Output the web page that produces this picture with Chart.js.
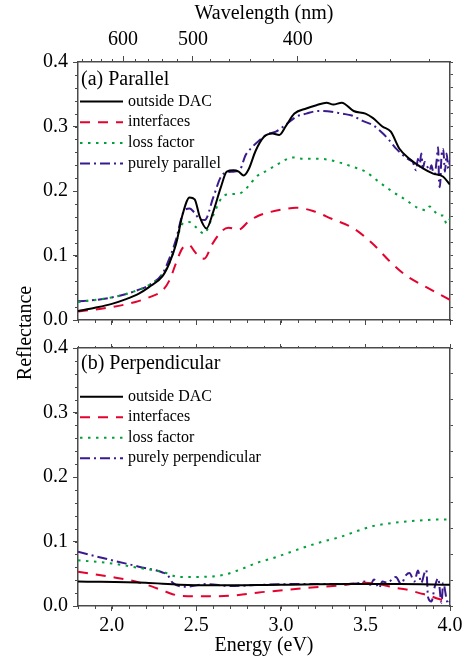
<!DOCTYPE html>
<html>
<head>
<meta charset="utf-8">
<script src="https://cdn.jsdelivr.net/npm/chart.js@4"></script>
<style>
  body { margin: 0; background: #fff; }
  #wrap { position: relative; width: 466px; height: 658px; }
  canvas { position: absolute; left: 0; }
  #c1 { top: 0; }
  #c2 { top: 330px; }
  #ylabel {
    position: absolute; left: -75px; top: 321px; width: 200px; height: 24px;
    line-height: 24px; text-align: center; font: 20px "Liberation Serif", serif;
    color: #000; transform: rotate(-90deg);
  }
</style>
</head>
<body>
<div id="wrap">
  <canvas id="c1" width="466" height="330"></canvas>
  <canvas id="c2" width="466" height="328"></canvas>
  <div id="ylabel">Reflectance</div>
</div>
<script>
// axis ticks
const energyTicks = [2.0, 2.5, 3.0, 3.5, 4.0];
const reflTicks = [0, 0.1, 0.2, 0.3, 0.4];
const wavelengthTicks = [600, 500, 400];
const wavelengthMinor = [680, 660, 640, 620, 580, 560, 540, 520, 480, 460, 440, 420, 380, 360, 340, 320];

// (a) Parallel
const parOutsideE = [1.80, 1.90, 2.00, 2.08, 2.16, 2.22, 2.30, 2.34, 2.38, 2.42, 2.46, 2.49, 2.52, 2.56, 2.60, 2.645, 2.68, 2.72, 2.75, 2.78, 2.81, 2.85, 2.90, 2.95, 2.99, 3.03, 3.08, 3.15, 3.21, 3.27, 3.31, 3.36, 3.43, 3.50, 3.545, 3.60, 3.65, 3.70, 3.76, 3.84, 3.90, 3.96, 4.00];
const parOutsideR = [0.014, 0.019, 0.025, 0.032, 0.041, 0.051, 0.068, 0.088, 0.118, 0.165, 0.190, 0.187, 0.160, 0.142, 0.168, 0.206, 0.230, 0.232, 0.230, 0.224, 0.234, 0.262, 0.284, 0.289, 0.287, 0.301, 0.320, 0.328, 0.333, 0.337, 0.334, 0.337, 0.324, 0.320, 0.313, 0.300, 0.292, 0.266, 0.250, 0.235, 0.227, 0.222, 0.210];

const parInterfE = [1.80, 2.00, 2.14, 2.22, 2.30, 2.34, 2.378, 2.417, 2.457, 2.49, 2.516, 2.546, 2.595, 2.655, 2.69, 2.75, 2.81, 2.87, 2.93, 3.00, 3.09, 3.19, 3.30, 3.43, 3.54, 3.64, 3.74, 3.86, 4.00];
const parInterfR = [0.013, 0.020, 0.028, 0.035, 0.046, 0.061, 0.087, 0.111, 0.116, 0.106, 0.098, 0.095, 0.118, 0.139, 0.143, 0.140, 0.153, 0.162, 0.167, 0.171, 0.174, 0.169, 0.157, 0.142, 0.119, 0.092, 0.069, 0.051, 0.031];

const parLossE = [1.80, 1.90, 2.00, 2.08, 2.16, 2.22, 2.30, 2.34, 2.378, 2.417, 2.457, 2.497, 2.546, 2.595, 2.655, 2.70, 2.754, 2.81, 2.853, 2.92, 2.99, 3.07, 3.13, 3.19, 3.27, 3.35, 3.43, 3.50, 3.58, 3.66, 3.74, 3.80, 3.83, 3.86, 3.88, 3.91, 3.94, 3.96, 3.98, 4.00];
const parLossR = [0.028, 0.031, 0.035, 0.040, 0.047, 0.054, 0.070, 0.088, 0.118, 0.149, 0.152, 0.144, 0.134, 0.160, 0.191, 0.195, 0.196, 0.208, 0.222, 0.232, 0.243, 0.252, 0.250, 0.250, 0.249, 0.244, 0.237, 0.230, 0.214, 0.199, 0.186, 0.175, 0.172, 0.170, 0.176, 0.168, 0.162, 0.162, 0.149, 0.157];

const parPureE = [1.80, 1.90, 2.00, 2.08, 2.16, 2.22, 2.30, 2.34, 2.38, 2.42, 2.46, 2.49, 2.52, 2.55, 2.60, 2.645, 2.68, 2.72, 2.76, 2.79, 2.83, 2.87, 2.92, 2.97, 3.03, 3.09, 3.15, 3.22, 3.30, 3.36, 3.42, 3.48, 3.545, 3.60, 3.64, 3.68, 3.72, 3.76, 3.78, 3.80, 3.81, 3.82, 3.83, 3.84, 3.85, 3.86, 3.87, 3.88, 3.89, 3.90, 3.91, 3.92, 3.93, 3.935, 3.94, 3.95, 3.96, 3.97, 3.98, 3.99, 4.00];
const parPureR = [0.029, 0.031, 0.035, 0.040, 0.047, 0.054, 0.072, 0.095, 0.125, 0.165, 0.173, 0.166, 0.156, 0.155, 0.190, 0.222, 0.229, 0.230, 0.234, 0.255, 0.268, 0.278, 0.288, 0.292, 0.303, 0.315, 0.320, 0.324, 0.323, 0.320, 0.317, 0.309, 0.302, 0.290, 0.279, 0.266, 0.256, 0.248, 0.245, 0.232, 0.250, 0.238, 0.258, 0.236, 0.245, 0.240, 0.236, 0.232, 0.240, 0.230, 0.226, 0.245, 0.268, 0.215, 0.206, 0.255, 0.265, 0.230, 0.258, 0.235, 0.248];

// (b) Perpendicular
const perpOutsideE = [1.80, 2.20, 2.40, 2.60, 3.00, 3.40, 3.70, 4.00];
const perpOutsideR = [0.038, 0.036, 0.033, 0.032, 0.033, 0.034, 0.034, 0.033];

const perpInterfE = [1.80, 2.00, 2.14, 2.24, 2.32, 2.40, 2.56, 2.75, 2.87, 2.95, 3.15, 3.35, 3.50, 3.60, 3.68, 3.75, 3.82, 3.88, 3.92, 3.96, 4.00];
const perpInterfR = [0.053, 0.045, 0.038, 0.030, 0.022, 0.016, 0.015, 0.017, 0.021, 0.023, 0.028, 0.032, 0.036, 0.033, 0.028, 0.025, 0.020, 0.016, 0.012, 0.009, 0.008];

const perpLossE = [1.80, 2.00, 2.16, 2.30, 2.40, 2.50, 2.655, 2.754, 2.87, 2.95, 3.05, 3.15, 3.25, 3.35, 3.47, 3.545, 3.64, 3.74, 3.84, 3.92, 4.00];
const perpLossR = [0.071, 0.066, 0.059, 0.053, 0.045, 0.045, 0.048, 0.056, 0.068, 0.074, 0.083, 0.092, 0.100, 0.107, 0.118, 0.124, 0.128, 0.131, 0.133, 0.134, 0.134];

const perpPureE = [1.80, 2.00, 2.16, 2.30, 2.33, 2.36, 2.44, 2.56, 2.70, 2.90, 3.10, 3.30, 3.45, 3.50, 3.53, 3.55, 3.58, 3.60, 3.63, 3.66, 3.68, 3.71, 3.74, 3.76, 3.79, 3.81, 3.83, 3.85, 3.86, 3.87, 3.89, 3.91, 3.93, 3.95, 3.96, 3.98, 3.99, 4.00];
const perpPureR = [0.084, 0.071, 0.061, 0.052, 0.048, 0.036, 0.030, 0.034, 0.031, 0.033, 0.034, 0.034, 0.035, 0.038, 0.033, 0.041, 0.028, 0.038, 0.036, 0.042, 0.045, 0.034, 0.048, 0.051, 0.038, 0.055, 0.036, 0.052, 0.056, 0.014, 0.007, 0.030, 0.043, 0.005, 0.036, 0.010, 0.003, 0.008];

const FONT = '"Liberation Serif", "Times New Roman", serif';
const AXIS = "#4a4a4a";
const HC = 1239.84; // eV*nm

const pts = (xs, ys) => xs.map((x, i) => ({ x, y: ys[i] }));

// minor ticks: energy every 0.1 eV, reflectance every 0.02
const energyMinor = [];
for (let e = 1.8; e < 4.0 + 1e-9; e += 0.1) energyMinor.push(Math.round(e * 10) / 10);
const reflMinor = [];
for (let r = 0; r < 0.4 + 1e-9; r += 0.02) reflMinor.push(Math.round(r * 100) / 100);

function line(label, color, dash, data) {
  return {
    label,
    data,
    borderColor: color,
    borderWidth: 2,
    borderDash: dash,
    pointRadius: 0,
    fill: false,
    cubicInterpolationMode: "monotone",
  };
}

const minorTicks = {
  id: "minorTicks",
  afterDraw(chart, args, opts) {
    const ctx = chart.ctx;
    ctx.save();
    ctx.strokeStyle = AXIS;
    ctx.lineWidth = 1;
    (opts.list || []).forEach(({ axis, values, len }) => {
      const s = chart.scales[axis];
      values.forEach((v) => {
        const p = Math.round(s.getPixelForValue(v)) + 0.5;
        ctx.beginPath();
        if (s.position === "left") { ctx.moveTo(s.right, p); ctx.lineTo(s.right - len, p); }
        else if (s.position === "right") { ctx.moveTo(s.left, p); ctx.lineTo(s.left + len, p); }
        else if (s.position === "top") { ctx.moveTo(p, s.bottom); ctx.lineTo(p, s.bottom - len); }
        else { ctx.moveTo(p, s.top); ctx.lineTo(p, s.top + len); }
        ctx.stroke();
      });
    });
    ctx.restore();
  },
};

const panelLegend = {
  id: "panelLegend",
  afterDraw(chart, args, opts) {
    const { ctx, chartArea } = chart;
    const L = chartArea.left;
    ctx.save();
    ctx.fillStyle = "#000";
    ctx.textBaseline = "middle";
    ctx.font = "20px " + FONT;
    ctx.fillText(opts.title, L + 3, chartArea.top + opts.titleY);
    ctx.font = "16px " + FONT;
    chart.data.datasets.forEach((ds, i) => {
      const y = chartArea.top + opts.rowY + i * opts.rowGap;
      ctx.strokeStyle = ds.borderColor;
      ctx.lineWidth = ds.borderWidth;
      ctx.setLineDash(ds.borderDash || []);
      ctx.beginPath();
      ctx.moveTo(L + 2, y);
      ctx.lineTo(L + 45, y);
      ctx.stroke();
      ctx.setLineDash([]);
      ctx.fillText(ds.label, L + 50, y);
    });
    ctx.restore();
  },
};

const tickFont = { family: FONT, size: 20 };

function yScales(rightStep) {
  return {
    y: {
      position: "left",
      min: 0,
      max: 0.4,
      afterBuildTicks: (s) => { s.ticks = reflTicks.map((v) => ({ value: v })); },
      ticks: { color: "#000", font: tickFont, padding: 5, callback: (v) => v.toFixed(1) },
      grid: { drawOnChartArea: false, tickLength: 5, tickColor: AXIS, tickWidth: 1 },
      border: { color: AXIS, width: 1.5 },
      afterFit: (s) => { s.width = 78; s.paddingTop = 0; s.paddingBottom = 0; },
    },
    yRight: {
      position: "right",
      min: 0,
      max: 0.4,
      afterBuildTicks: (s) => { s.ticks = reflMinor.filter((v, i) => i % rightStep === 0).map((v) => ({ value: v })); },
      ticks: { display: false, autoSkip: false },
      grid: { drawOnChartArea: false, tickLength: 3, tickColor: AXIS, tickWidth: 1 },
      border: { color: AXIS, width: 1.5 },
      afterFit: (s) => { s.width = 16; s.paddingTop = 0; s.paddingBottom = 0; },
    },
  };
}

function energyAxis(position, showLabels, height, withTitle) {
  return {
    type: "linear",
    position,
    min: 1.8,
    max: 4.0,
    afterBuildTicks: (s) => { s.ticks = energyTicks.map((v) => ({ value: v })); },
    ticks: { display: showLabels, color: "#000", font: tickFont, padding: 3, autoSkip: false, maxRotation: 0, callback: (v) => v.toFixed(1) },
    grid: { drawOnChartArea: false, tickLength: 5, tickColor: AXIS, tickWidth: 1 },
    border: { color: AXIS, width: 1.5 },
    title: { display: withTitle, text: "Energy (eV)", color: "#000", font: tickFont, padding: { top: 0, bottom: 0 } },
    afterFit: (s) => { s.height = height; s.paddingLeft = 0; s.paddingRight = 0; },
  };
}

// (a) Parallel
new Chart(document.getElementById("c1"), {
  type: "line",
  data: {
    datasets: [
      line("outside DAC", "#000000", [], pts(parOutsideE, parOutsideR)),
      line("interfaces", "#e4032e", [10, 8], pts(parInterfE, parInterfR)),
      line("loss factor", "#00a13a", [2.5, 5.5], pts(parLossE, parLossR)),
      line("purely parallel", "#3b1a8e", [10, 4, 2, 4], pts(parPureE, parPureR)),
    ],
  },
  options: {
    responsive: false,
    animation: false,
    devicePixelRatio: 1,
    layout: { padding: 0 },
    scales: {
      x: energyAxis("bottom", false, 10, false),
      xTop: {
        type: "linear",
        position: "top",
        min: 1.8,
        max: 4.0,
        afterBuildTicks: (s) => { s.ticks = wavelengthTicks.map((w) => ({ value: HC / w })); },
        ticks: {
          color: "#000", font: tickFont, padding: 4, autoSkip: false, maxRotation: 0,
          callback: (v, i) => String(wavelengthTicks[i]),
        },
        grid: { drawOnChartArea: false, tickLength: 6, tickColor: AXIS, tickWidth: 1 },
        border: { color: AXIS, width: 1.5 },
        title: { display: true, text: "Wavelength (nm)", color: "#000", font: tickFont, padding: { top: 2, bottom: 0 } },
        afterFit: (s) => { s.height = 62; s.paddingLeft = 0; s.paddingRight = 0; },
      },
      ...yScales(1),
    },
    plugins: {
      legend: { display: false },
      tooltip: { enabled: false },
      minorTicks: {
        list: [
          { axis: "x", values: energyMinor, len: 3 },
          { axis: "xTop", values: wavelengthMinor.map((w) => HC / w), len: 3 },
          { axis: "y", values: reflMinor, len: 3 },
        ],
      },
      panelLegend: { title: "(a) Parallel", titleY: 18, rowY: 39.5, rowGap: 20.7 },
    },
  },
  plugins: [minorTicks, panelLegend],
});

// (b) Perpendicular
new Chart(document.getElementById("c2"), {
  type: "line",
  data: {
    datasets: [
      line("outside DAC", "#000000", [], pts(perpOutsideE, perpOutsideR)),
      line("interfaces", "#e4032e", [10, 8], pts(perpInterfE, perpInterfR)),
      line("loss factor", "#00a13a", [2.5, 5.5], pts(perpLossE, perpLossR)),
      line("purely perpendicular", "#3b1a8e", [10, 4, 2, 4], pts(perpPureE, perpPureR)),
    ],
  },
  options: {
    responsive: false,
    animation: false,
    devicePixelRatio: 1,
    layout: { padding: 0 },
    scales: {
      x: energyAxis("bottom", true, 52, true),
      xTop: {
        type: "linear",
        position: "top",
        min: 1.8,
        max: 4.0,
        afterBuildTicks: (s) => { s.ticks = energyTicks.map((v) => ({ value: v })); },
        ticks: { display: false, autoSkip: false },
        grid: { drawOnChartArea: false, tickLength: 4, tickColor: AXIS, tickWidth: 1 },
        border: { color: AXIS, width: 1.5 },
        afterFit: (s) => { s.height = 18; s.paddingLeft = 0; s.paddingRight = 0; },
      },
      ...yScales(2),
    },
    plugins: {
      legend: { display: false },
      tooltip: { enabled: false },
      minorTicks: {
        list: [
          { axis: "x", values: energyMinor, len: 3 },
          { axis: "xTop", values: energyMinor, len: 2 },
          { axis: "y", values: reflMinor, len: 3 },
        ],
      },
      panelLegend: { title: "(b) Perpendicular", titleY: 15.3, rowY: 48.7, rowGap: 20.5 },
    },
  },
  plugins: [minorTicks, panelLegend],
});
</script>
</body>
</html>
